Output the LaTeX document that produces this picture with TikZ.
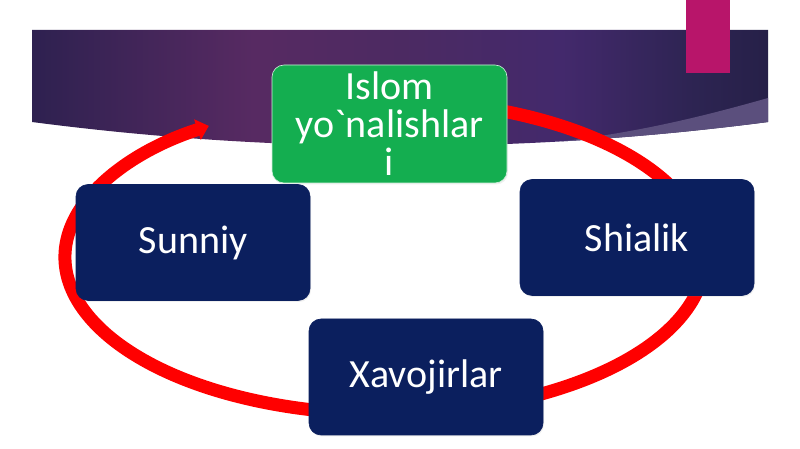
\documentclass[tikz,border=0pt]{standalone}
\usepackage{fontspec}
\setsansfont{Carlito}
\usetikzlibrary{arrows.meta,shapes,positioning,shadows,calc}
\tikzset{every picture/.style={/utils/exec={\sffamily}}}
\definecolor{slide-navy}{HTML}{0B1F5E}
\definecolor{slide-green}{HTML}{14AE50}
\definecolor{slide-red}{HTML}{FF0000}
\definecolor{slide-pink}{HTML}{B8156A}
\definecolor{banner-a}{HTML}{2E2150}
\definecolor{banner-b}{HTML}{572A62}
\definecolor{banner-c}{HTML}{4C2A62}
\definecolor{banner-d}{HTML}{43296C}
\definecolor{banner-e}{HTML}{2D2452}
\definecolor{banner-f}{HTML}{262048}
\definecolor{banner-band}{HTML}{5B4F7D}
\pgfdeclarehorizontalshading{banner}{100bp}{color(0bp)=(banner-a); color(25bp)=(banner-a); color(40bp)=(banner-b); color(50bp)=(banner-c); color(61bp)=(banner-d); color(70bp)=(banner-e); color(75bp)=(banner-f); color(100bp)=(banner-f)}

\begin{document}
\begin{tikzpicture}[x=1pt, y=1pt,
    box/.style={fill=slide-navy, draw=slide-navy, line width=0.6pt, rounded corners=12pt, minimum width=234pt, minimum height=116pt, inner sep=0pt, text=white, font=\fontsize{40}{38}\selectfont, drop shadow={opacity=0.12, shadow xshift=1pt, shadow yshift=-1.5pt}},
    topbox/.style={box, fill=slide-green, draw=white!80!slide-green, minimum width=235pt, minimum height=118pt, align=center},
    ring/.style={draw=slide-red, line width=13pt, -{Triangle[width=21pt,length=12pt]}}]
    \useasboundingbox (0,0) rectangle (800,449);
    \fill[white] (0,0) rectangle (800,449);

    % banner
    \shade[shading=banner] (32,419) -- (32,327) .. controls (277,295) and (523,295) .. (768,327) -- (768,419) -- cycle;
    \begin{scope}
        \clip (32,419) -- (32,327) .. controls (277,295) and (523,295) .. (768,327) -- (768,419) -- cycle;
        \fill[banner-band] (768,351) .. controls (680,326) and (600,308) .. (480,300) -- (480,280) -- (800,280) -- (800,351) -- cycle;
    \end{scope}
    \fill[slide-pink] (686,376) rectangle (730,449);

    % ring
    \coordinate (ring) at (385,192);
    \draw[ring] (ring) ++(75:320 and 157) arc[start angle=75, end angle=-236.6, x radius=320, y radius=157];

    \node[topbox] (islom) at (389.5,325) {Islom\\yo\textasciigrave nalishlar\\i};
    \node[box] (sunniy) at (193,206.5) {Sunniy};
    \node[box] (shialik) at (637,211.5) {Shialik};
    \node[box] (xavojirlar) at (426,72) {Xavojirlar};

\end{tikzpicture}
\end{document}
